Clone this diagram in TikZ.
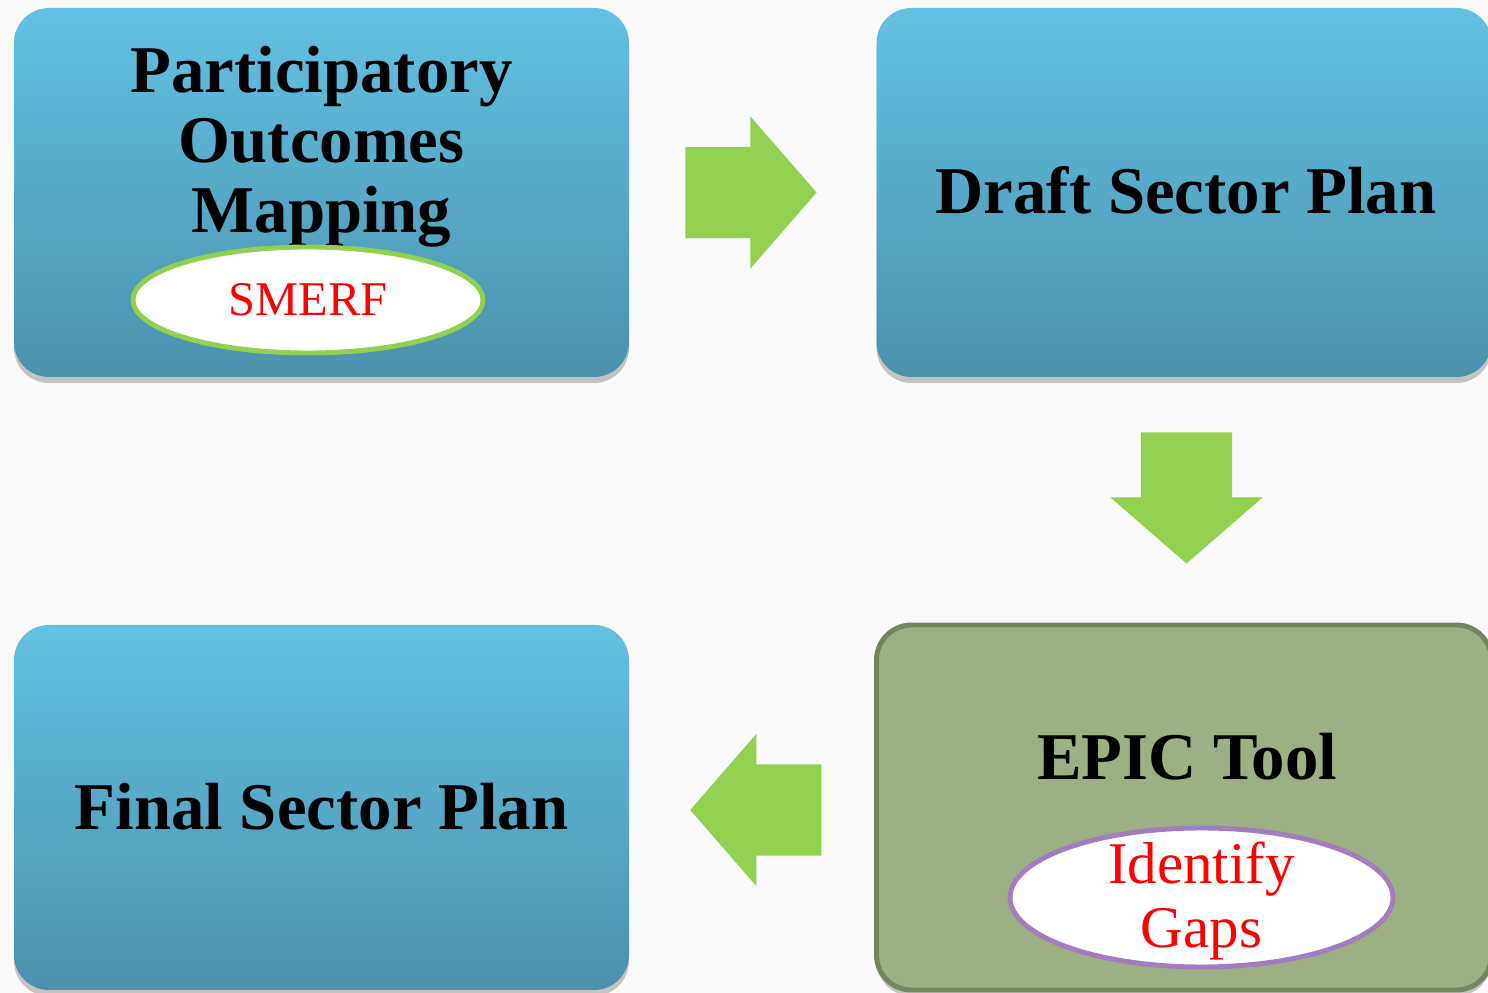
\documentclass[tikz,border=0pt]{standalone}
\usepackage{fontspec}
\setmainfont{Liberation Serif}
\usetikzlibrary{positioning,calc,shapes.geometric,shapes.arrows,shadows}

\definecolor{boxtop}{HTML}{62C1E3}
\definecolor{boxbot}{HTML}{4B91AC}
\definecolor{epicfill}{HTML}{9DB084}
\definecolor{epicline}{HTML}{74845E}
\definecolor{flowgreen}{HTML}{92D050}
\definecolor{gapline}{HTML}{A47CC0}
\definecolor{tagred}{HTML}{FF0000}

\tikzset{
  stage/.style={rectangle, rounded corners=3.5mm, minimum width=61.5mm, minimum height=36.9mm,
    inner sep=0pt, top color=boxtop, bottom color=boxbot,
    drop shadow={shadow xshift=0mm, shadow yshift=-0.6mm, fill=black, opacity=0.22}},
  title/.style={align=center, inner sep=0pt, font=\fontsize{19}{19.9}\selectfont\bfseries},
  tag/.style={ellipse, fill=white, line width=1.4pt, inner sep=0pt, text=tagred, align=center},
  flow/.style={single arrow, fill=flowgreen, inner sep=4.5mm, minimum height=13.1mm,
    single arrow head extend=3.05mm, single arrow tip angle=98, single arrow head indent=0pt}
}

\begin{document}
\begin{tikzpicture}[x=0.1mm, y=-0.1mm]
\useasboundingbox (0,0) rectangle (1488,993);
\clip (0,0) rectangle (1488,993);
\fill[gray!4] (0,0) rectangle (1488,993);

% the four stages
\node[stage] (POM) at (321.5,192.5) {};
\node[stage] (DSP) at (1184,192.5) {};
\node[stage, minimum height=36.5mm] (FSP) at (321.5,807.5) {};
\node[stage, minimum height=36.5mm, top color=epicfill, bottom color=epicfill, draw=epicline, line width=1.4pt] (EPIC) at (1184,807.5) {};

% texts
\node[title] (POMtext) at (321.5,147) {Participatory\\Outcomes\\Mapping};
\node[title] (DSPtext) at (1186,190) {Draft Sector Plan};
\node[title] (FSPtext) at (321.5,807) {Final Sector Plan};
\node[title] (EPICtext) at (1187,757) {EPIC Tool};

\node[tag, draw=flowgreen, minimum width=35mm, minimum height=10.6mm, font=\fontsize{13.8}{14}\selectfont] (SMERF) at (308,300) {SMERF};
\node[tag, draw=gapline, minimum width=38.3mm, minimum height=13.9mm] (GAPS) at (1201.5,897.5) {};
\node[text=tagred, align=center, inner sep=0pt, font=\fontsize{16.8}{18.2}\selectfont] (GAPStext) at (1201.5,901) {Identify\\Gaps};

% arrows between stages
\node[flow, anchor=tail] (A1) at ($(POM.east)+(55,0)$) {};
\node[flow, rotate=-90, anchor=tail] (A2) at ($(DSP.south)+(2.5,54)$) {};
\node[flow, rotate=180, anchor=tail] (A3) at ($(EPIC.west)+(-52,2.5)$) {};
\end{tikzpicture}
\end{document}
